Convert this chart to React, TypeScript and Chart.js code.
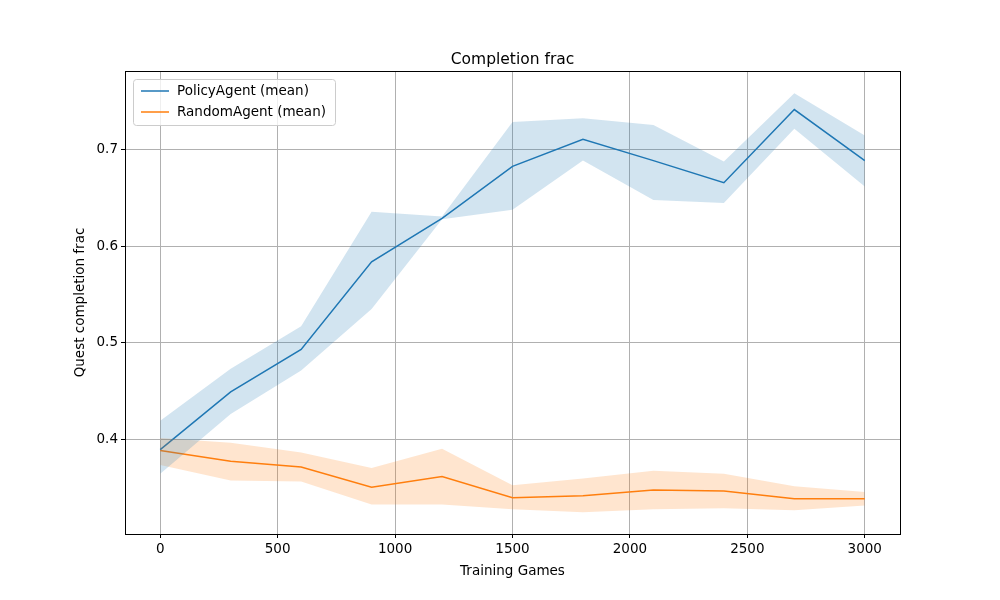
import React, { useEffect, useRef } from "react";
import { Chart, registerables } from "chart.js";
Chart.register(...registerables);

const xs = [0, 300, 600, 900, 1200, 1500, 1800, 2100, 2400, 2700, 3000];
const policyMean = [0.389, 0.449, 0.493, 0.584, 0.629, 0.683, 0.711, 0.689, 0.666, 0.742, 0.689];
const policyUpper = [0.419, 0.473, 0.517, 0.636, 0.631, 0.729, 0.733, 0.726, 0.688, 0.759, 0.715];
const policyLower = [0.364, 0.426, 0.471, 0.535, 0.628, 0.638, 0.689, 0.648, 0.645, 0.722, 0.662];
const randomMean = [0.388, 0.377, 0.371, 0.350, 0.361, 0.339, 0.341, 0.347, 0.346, 0.338, 0.338];
const randomUpper = [0.401, 0.396, 0.386, 0.370, 0.390, 0.352, 0.359, 0.367, 0.364, 0.351, 0.345];
const randomLower = [0.373, 0.357, 0.356, 0.332, 0.332, 0.327, 0.324, 0.327, 0.328, 0.326, 0.331];
const xTicks = [0, 500, 1000, 1500, 2000, 2500, 3000];
const yTicks = [0.4, 0.5, 0.6, 0.7];
const legendLabels = ["PolicyAgent (mean)", "RandomAgent (mean)"];

const BLUE = "#1f77b4";
const ORANGE = "#ff7f0e";
const FONT = "'DejaVu Sans', sans-serif";

const pts = (ys: number[]) => xs.map((x, i) => ({ x, y: ys[i] }));

export default function App() {
  const ref = useRef<HTMLCanvasElement>(null);
  useEffect(() => {
    document.body.style.margin = "0";
    const overlay = {
      id: "overlay",
      afterDraw(chart: any) {
        const { ctx, chartArea: a } = chart;
        ctx.save();
        ctx.strokeStyle = "#000";
        ctx.lineWidth = 1;
        ctx.strokeRect(Math.round(a.left) + 0.5, Math.round(a.top) + 0.5, Math.round(a.right - a.left), Math.round(a.bottom - a.top));
        ctx.fillStyle = "#000";
        ctx.font = `15.5px ${FONT}`;
        ctx.textAlign = "center";
        ctx.textBaseline = "alphabetic";
        ctx.fillText("Completion frac", (a.left + a.right) / 2, 64);
        const x0 = a.left + 8, y0 = a.top + 8, w = 202, h = 46;
        ctx.fillStyle = "rgba(255,255,255,0.8)";
        ctx.strokeStyle = "#cccccc";
        ctx.beginPath();
        (ctx as any).roundRect(x0 + 0.5, y0 + 0.5, w, h, 3);
        ctx.fill();
        ctx.stroke();
        ctx.font = `13.5px ${FONT}`;
        ctx.textAlign = "left";
        ctx.textBaseline = "middle";
        [BLUE, ORANGE].forEach((c, i) => {
          const yy = y0 + 12 + i * 21;
          ctx.strokeStyle = c;
          ctx.lineWidth = 1.5;
          ctx.beginPath();
          ctx.moveTo(x0 + 8, yy);
          ctx.lineTo(x0 + 36, yy);
          ctx.stroke();
          ctx.fillStyle = "#000";
          ctx.fillText(legendLabels[i], x0 + 44, yy);
        });
        ctx.restore();
      },
    };
    const chart = new Chart(ref.current!, {
      type: "line",
      data: {
        datasets: [
          { data: pts(policyLower), borderWidth: 0, pointRadius: 0, fill: false, backgroundColor: "rgba(31,119,180,0.2)" },
          { data: pts(policyUpper), borderWidth: 0, pointRadius: 0, fill: "-1", backgroundColor: "rgba(31,119,180,0.2)" },
          { data: pts(randomLower), borderWidth: 0, pointRadius: 0, fill: false, backgroundColor: "rgba(255,127,14,0.2)" },
          { data: pts(randomUpper), borderWidth: 0, pointRadius: 0, fill: "-1", backgroundColor: "rgba(255,127,14,0.2)" },
          { data: pts(policyMean), borderColor: BLUE, borderWidth: 1.5, pointRadius: 0, fill: false },
          { data: pts(randomMean), borderColor: ORANGE, borderWidth: 1.5, pointRadius: 0, fill: false },
        ],
      },
      options: {
        animation: false,
        responsive: false,
        devicePixelRatio: 1,
        layout: { padding: { top: 71, right: 100, left: 0, bottom: 0 } },
        plugins: { legend: { display: false }, tooltip: { enabled: false }, title: { display: false } },
        elements: { line: { tension: 0 } },
        scales: {
          x: {
            type: "linear",
            min: -150,
            max: 3150,
            afterBuildTicks: (s: any) => { s.ticks = xTicks.map((v) => ({ value: v })); },
            afterFit: (s: any) => { s.height = 66; },
            ticks: { color: "#000", font: { family: FONT, size: 13.5 }, padding: 3, maxRotation: 0, callback: (v: any) => String(v) },
            grid: { color: "#b0b0b0", tickLength: 4, tickColor: "#000" },
            border: { color: "#000", width: 1 },
            title: { display: true, text: "Training Games", color: "#000", font: { family: FONT, size: 13.5 }, padding: { top: 2, bottom: 20 } },
          },
          y: {
            type: "linear",
            min: 0.3014,
            max: 0.782,
            afterBuildTicks: (s: any) => { s.ticks = yTicks.map((v) => ({ value: v })); },
            afterFit: (s: any) => { s.width = 125; },
            ticks: { color: "#000", font: { family: FONT, size: 13.5 }, padding: 3, callback: (v: any) => Number(v).toFixed(1) },
            grid: { color: "#b0b0b0", tickLength: 4, tickColor: "#000" },
            border: { color: "#000", width: 1 },
            title: { display: true, text: "Quest completion frac", color: "#000", font: { family: FONT, size: 13.5 }, padding: { top: 72, bottom: 0 } },
          },
        },
      } as any,
      plugins: [overlay],
    });
    return () => chart.destroy();
  }, []);
  return <canvas ref={ref} width={1000} height={600} style={{ display: "block" }} />;
}
